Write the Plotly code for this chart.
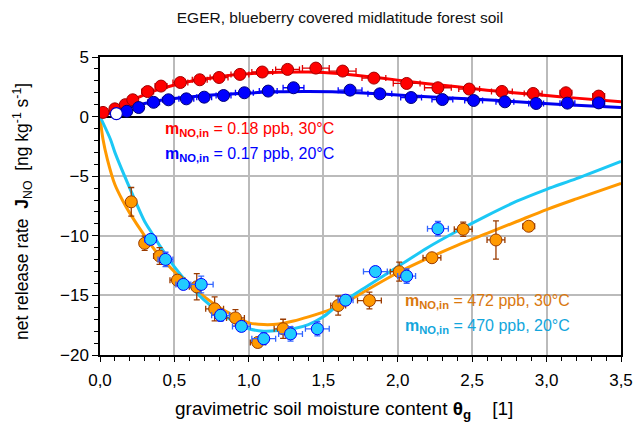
import plotly.graph_objects as go

# ---------------- data ----------------
# low NO, 30 °C (red)
red_x = [0.02, 0.10, 0.17, 0.22, 0.32, 0.41, 0.54, 0.67, 0.80, 0.94, 1.09, 1.26, 1.45, 1.63, 1.84, 2.06, 2.27, 2.48, 2.70, 2.91, 3.13, 3.35]
red_y = [0.35, 0.65, 1.0, 1.41, 2.1, 2.56, 2.86, 3.09, 3.28, 3.54, 3.74, 3.96, 4.07, 3.82, 3.23, 2.78, 2.42, 2.31, 2.11, 1.94, 2.0, 1.72]
red_ex = [0.01, 0.02, 0.03, 0.03, 0.04, 0.04, 0.05, 0.05, 0.06, 0.06, 0.07, 0.08, 0.09, 0.09, 0.08, 0.09, 0.09, 0.07, 0.07, 0.06, 0.04, 0.04]
red_ey = [0.1, 0.1, 0.1, 0.1, 0.15, 0.15, 0.15, 0.15, 0.15, 0.15, 0.15, 0.15, 0.15, 0.15, 0.15, 0.15, 0.15, 0.15, 0.15, 0.15, 0.15, 0.15]
red_fit_x = [0, 0.1, 0.2, 0.3, 0.4, 0.5, 0.6, 0.7, 0.8, 0.9, 1.0, 1.2, 1.4, 1.6, 1.8, 2.0, 2.2, 2.4, 2.6, 2.8, 3.0, 3.2, 3.5]
red_fit_y = [0, 0.7, 1.3, 1.85, 2.3, 2.65, 2.95, 3.15, 3.35, 3.5, 3.6, 3.72, 3.74, 3.62, 3.36, 3.06, 2.76, 2.5, 2.22, 1.98, 1.77, 1.55, 1.25]

# low NO, 20 °C (blue)
blue_open_x = [0.11]
blue_open_y = [0.25]
blue_x = [0.18, 0.26, 0.36, 0.46, 0.58, 0.70, 0.83, 0.97, 1.13, 1.30, 1.68, 1.88, 2.09, 2.30, 2.51, 2.72, 2.93, 3.14, 3.35]
blue_y = [0.45, 0.76, 1.2, 1.41, 1.49, 1.63, 1.77, 2.0, 2.14, 2.42, 2.22, 1.91, 1.6, 1.43, 1.35, 1.24, 1.1, 1.13, 1.15]
blue_ex = [0.02, 0.03, 0.04, 0.04, 0.05, 0.05, 0.05, 0.06, 0.06, 0.07, 0.08, 0.08, 0.07, 0.07, 0.06, 0.06, 0.05, 0.05, 0.04]
blue_ey = [0.1] * 19
blue_fit_x = [0, 0.1, 0.2, 0.3, 0.4, 0.5, 0.6, 0.8, 1.0, 1.2, 1.4, 1.6, 1.8, 2.0, 2.2, 2.5, 2.8, 3.1, 3.5]
blue_fit_y = [0, 0.45, 0.8, 1.1, 1.35, 1.52, 1.65, 1.85, 1.98, 2.08, 2.1, 2.07, 1.96, 1.82, 1.66, 1.47, 1.25, 1.02, 0.77]

# high NO, 30 °C (orange)
orange_x = [0.21, 0.30, 0.40, 0.52, 0.65, 0.77, 0.91, 1.06, 1.23, 1.60, 1.81, 2.01, 2.23, 2.44, 2.66, 2.88]
orange_y = [-7.15, -10.63, -11.7, -13.72, -14.28, -16.13, -16.89, -18.95, -17.8, -15.85, -15.43, -13.01, -11.84, -9.45, -10.35, -9.2]
orange_ex = [0.02, 0.03, 0.04, 0.05, 0.05, 0.06, 0.06, 0.05, 0.06, 0.05, 0.08, 0.06, 0.06, 0.06, 0.06, 0.04]
orange_ey = [1.2, 0.6, 0.7, 0.3, 1.1, 1.0, 0.7, 0.2, 0.8, 0.8, 0.7, 0.8, 0.3, 0.6, 1.6, 0.3]
orange_fit_x = [0, 0.02, 0.05, 0.1, 0.15, 0.2, 0.3, 0.4, 0.5, 0.6, 0.7, 0.8, 0.9, 1.0, 1.1, 1.2, 1.3, 1.4, 1.5, 1.6, 1.8, 2.0, 2.2, 2.4, 2.6, 2.8, 3.0, 3.2, 3.5]
orange_fit_y = [0, -1.9, -3.6, -5.7, -7.0, -8.1, -10.0, -11.7, -13.0, -14.1, -15.1, -16.0, -16.7, -17.3, -17.45, -17.4, -17.15, -16.8, -16.4, -15.95, -14.5, -13.1, -11.9, -10.8, -9.8, -8.8, -7.8, -6.9, -5.6]

# high NO, 20 °C (cyan)
cyan_x = [0.34, 0.44, 0.56, 0.68, 0.81, 0.95, 1.10, 1.28, 1.46, 1.65, 1.85, 2.06, 2.27]
cyan_y = [-10.3, -11.98, -14.08, -14.08, -16.67, -17.6, -18.63, -18.23, -17.8, -15.4, -13.0, -13.38, -9.4]
cyan_ex = [0.04, 0.05, 0.05, 0.08, 0.06, 0.06, 0.08, 0.08, 0.08, 0.05, 0.08, 0.06, 0.07]
cyan_ey = [0.4, 0.6, 0.4, 0.7, 0.5, 0.4, 0.5, 0.6, 0.6, 0.4, 0.4, 0.6, 0.6]
cyan_fit_x = [0, 0.07, 0.1, 0.2, 0.3, 0.35, 0.4, 0.5, 0.6, 0.7, 0.8, 0.9, 1.0, 1.1, 1.2, 1.3, 1.4, 1.5, 1.6, 1.8, 2.0, 2.2, 2.4, 2.6, 2.8, 3.0, 3.2, 3.5]
cyan_fit_y = [0, -1.9, -3.0, -6.0, -8.8, -9.8, -10.8, -12.6, -14.1, -15.4, -16.4, -17.2, -17.8, -18.0, -17.95, -17.8, -17.45, -16.8, -15.8, -14.2, -12.6, -11.0, -9.6, -8.3, -7.1, -6.1, -5.2, -3.75]

x_range = [0, 3.5]
y_range = [-20, 5]
y_ticks = [5, 0, -5, -10, -15, -20]

FONT = "Liberation Sans, Arial, sans-serif"
TITLE_FONT = "Liberation Sans Narrow, Arial Narrow, Liberation Sans, sans-serif"

fig = go.Figure()

def fit(xs, ys, color):
    fig.add_trace(go.Scatter(x=xs, y=ys, mode="lines", line=dict(color=color, width=3, shape="spline", smoothing=0.8),
                             hoverinfo="skip", showlegend=False))

def pts(xs, ys, ex, ey, fill, edge, barcol):
    fig.add_trace(go.Scatter(
        x=xs, y=ys, mode="markers",
        marker=dict(size=12, color=fill, line=dict(color=edge, width=1)),
        error_x=dict(type="data", array=ex, color=barcol, thickness=1.3, width=3),
        error_y=dict(type="data", array=ey, color=barcol, thickness=1.3, width=3),
        showlegend=False))

fit(orange_fit_x, orange_fit_y, "#FF9900")
fit(cyan_fit_x, cyan_fit_y, "#1CC8F5")
fit(red_fit_x, red_fit_y, "#FF0000")
fit(blue_fit_x, blue_fit_y, "#0000EE")

pts(orange_x, orange_y, orange_ex, orange_ey, "#FF9900", "#9A3B00", "#9A3B00")
pts(cyan_x, cyan_y, cyan_ex, cyan_ey, "#22CCFF", "#0000FF", "#3366FF")
pts(red_x, red_y, red_ex, red_ey, "#FF0000", "#A00000", "#E00000")
pts(blue_x, blue_y, blue_ex, blue_ey, "#0000FF", "#00007A", "#0000FF")
fig.add_trace(go.Scatter(x=blue_open_x, y=blue_open_y, mode="markers",
                         marker=dict(size=12, color="white", line=dict(color="#0000CC", width=1.2)),
                         showlegend=False))

W, H = 636, 426
L, R, T, B = 100, 15, 57, 71
pw, ph = W - L - R, H - T - B

def px(x):
    return (x - L) / pw

def py(y):
    return (H - B - y) / ph

ann = [
    ("<b>m<sub>NO,in</sub></b> = 0.18 ppb, 30°C", 163, 129, "#FF0000"),
    ("<b>m<sub>NO,in</sub></b> = 0.17 ppb, 20°C", 163, 154, "#0000FF"),
    ("<b>m<sub>NO,in</sub></b> = 472 ppb, 30°C", 403, 301, "#D9780F"),
    ("<b>m<sub>NO,in</sub></b> = 470 ppb, 20°C", 403, 326, "#12A6DC"),
]
for txt, ax_, ay_, col in ann:
    fig.add_annotation(text=txt, x=px(ax_), y=py(ay_), xref="paper", yref="paper",
                       xanchor="left", yanchor="middle", showarrow=False,
                       font=dict(family=FONT, size=16, color=col))

fig.add_annotation(text="gravimetric soil moisture content <b>θ</b><sub><b>g</b></sub>    [1]",
                   x=px(344), y=py(410), xref="paper", yref="paper", xanchor="center", yanchor="middle",
                   showarrow=False, font=dict(family=FONT, size=19, color="black"))
fig.add_annotation(text="net release rate  <b>J</b><sub>NO</sub>  [ng kg<sup>-1</sup> s<sup>-1</sup>]",
                   x=px(22), y=py(212), xref="paper", yref="paper", xanchor="center", yanchor="middle",
                   textangle=-90, showarrow=False, font=dict(family=FONT, size=17.5, color="black"))

fig.update_layout(
    width=W, height=H,
    margin=dict(l=L, r=R, t=T, b=B, autoexpand=False),
    paper_bgcolor="white", plot_bgcolor="white",
    separators=", ",
    font=dict(family=FONT, size=17, color="black"),
    title=dict(text="EGER, blueberry covered midlatitude forest soil", x=340 / W, xanchor="center",
               y=1 - 18 / H, yanchor="middle", font=dict(family=TITLE_FONT, size=15.5, color="#111111")),
    showlegend=False,
)
fig.update_xaxes(range=x_range, dtick=0.5, tickformat=".1f", showgrid=True, gridcolor="#BBBBBB", gridwidth=1.5,
                 showline=True, linecolor="black", linewidth=1.5, mirror=True, zeroline=False, automargin=False,
                 ticks="outside", ticklen=5, tickcolor="black", ticklabelstandoff=4,
                 minor=dict(dtick=0.1, ticks="outside", ticklen=4, tickcolor="black", showgrid=False),
                 tickfont=dict(family=FONT, size=17, color="black"))
fig.update_yaxes(range=y_range, tickvals=y_ticks, showgrid=True, gridcolor="#BBBBBB", gridwidth=1.5,
                 showline=True, linecolor="black", linewidth=1.5, mirror=True, automargin=False,
                 zeroline=True, zerolinecolor="black", zerolinewidth=2,
                 ticks="outside", ticklen=6, tickcolor="black",
                 minor=dict(dtick=1, ticks="outside", ticklen=4, tickcolor="black", showgrid=False),
                 tickfont=dict(family=FONT, size=17, color="black"))

fig.write_html("out.html", config={"displayModeBar": False},
               post_script="document.body.style.margin='0';document.body.style.overflow='hidden';")
